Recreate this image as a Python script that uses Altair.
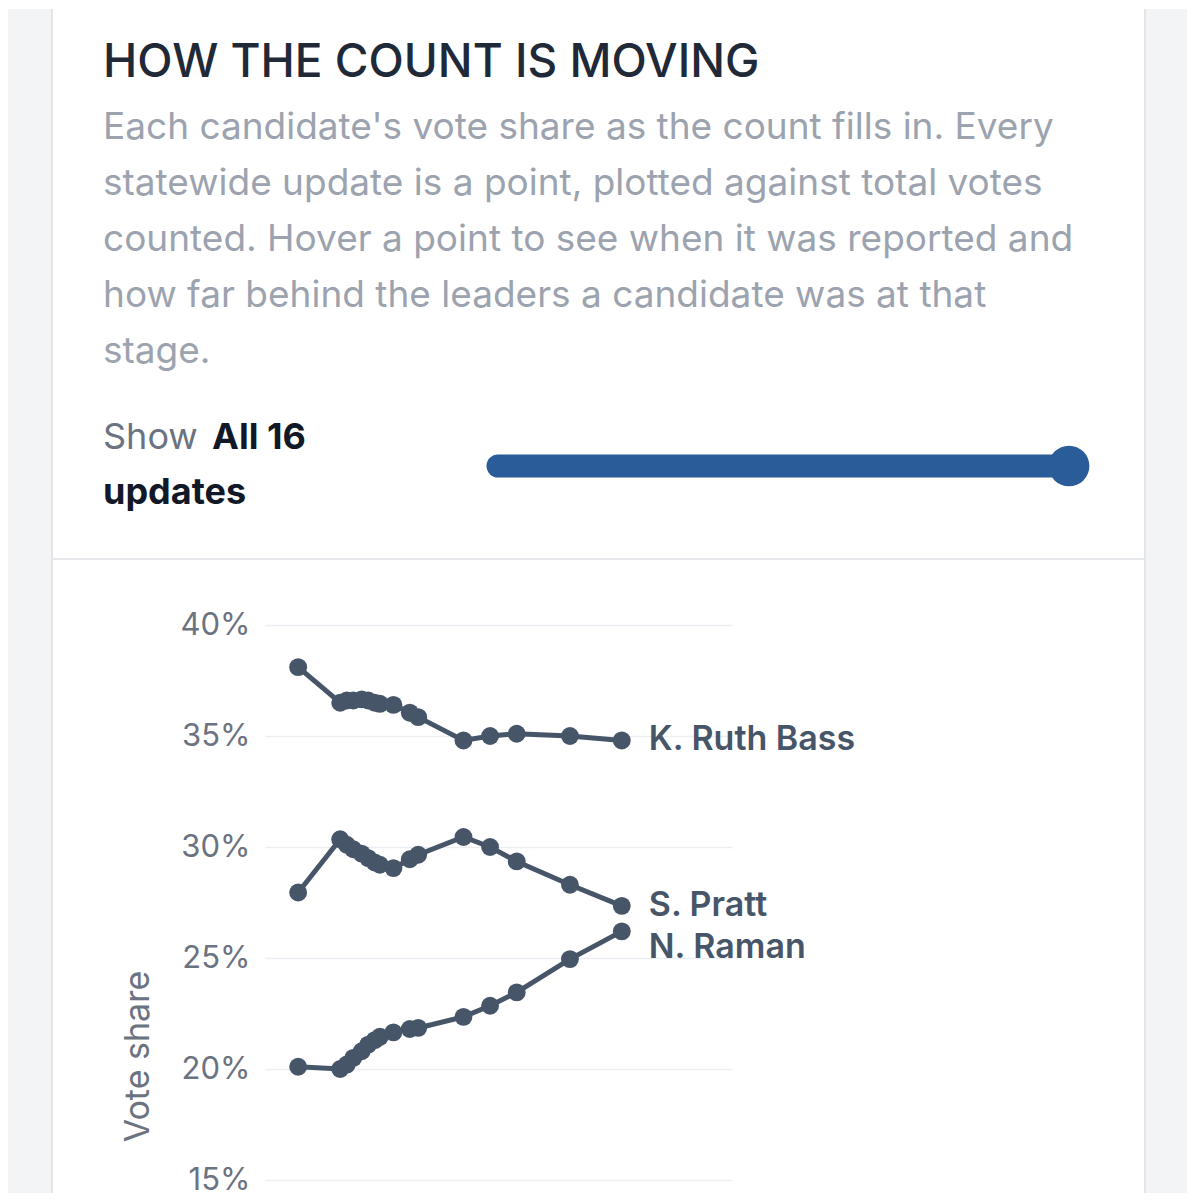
import altair as alt
import pandas as pd

# ---------------- data ----------------
votes_counted = [71000, 161000, 175000, 189000, 207000, 221000, 235000, 246000,
                 275000, 310000, 328000, 425000, 482000, 539000, 653000, 764000]
candidates = ["K. Ruth Bass", "S. Pratt", "N. Raman"]
bass_share = [38.1, 36.5, 36.6, 36.6, 36.65, 36.6, 36.5, 36.45,
              36.4, 36.05, 35.85, 34.8, 35.0, 35.1, 35.0, 34.8]
pratt_share = [27.95, 30.35, 30.1, 29.9, 29.7, 29.5, 29.3, 29.2,
               29.05, 29.45, 29.65, 30.45, 30.0, 29.35, 28.3, 27.35]
raman_share = [20.1, 20.0, 20.2, 20.5, 20.8, 21.1, 21.3, 21.45,
               21.65, 21.8, 21.85, 22.35, 22.85, 23.45, 24.95, 26.2]
y_ticks = [15, 20, 25, 30, 35, 40]

title_text = "HOW THE COUNT IS MOVING"
subtitle_lines = [
    "Each candidate's vote share as the count fills in. Every",
    "statewide update is a point, plotted against total votes",
    "counted. Hover a point to see when it was reported and",
    "how far behind the leaders a candidate was at that",
    "stage.",
]
n_updates = len(votes_counted)
show_word = "Show"
show_value = f"All {n_updates}"
show_unit = "updates"

# ---------------- tables ----------------
series = {candidates[0]: bass_share, candidates[1]: pratt_share, candidates[2]: raman_share}
rows = []
for i, v in enumerate(votes_counted):
    leader = max(series[c][i] for c in candidates)
    for c in candidates:
        rows.append({"update": i + 1, "votes": v, "candidate": c,
                     "share": series[c][i], "behind": round(leader - series[c][i], 2)})
df = pd.DataFrame(rows)
last = df[df["update"] == n_updates]
last_top = last[last["candidate"] != "N. Raman"]
last_low = last[last["candidate"] == "N. Raman"]

slider_df = pd.DataFrame({"first": [1], "shown": [n_updates]})
one = pd.DataFrame({"k": [0]})

INK = "#475569"
FONT = "Inter"

# ---------------- main chart ----------------
xenc = alt.X("votes:Q", title="Total votes counted",
             scale=alt.Scale(domain=[0, 1000000]), axis=None)
yenc = alt.Y("share:Q", title="Vote share",
             scale=alt.Scale(domain=[0, 40], range=[888, 0]),
             axis=alt.Axis(values=y_ticks, labelExpr="datum.value + '%'",
                           labelFontSize=31, labelColor="#6b7280", labelPadding=15,
                           labelFont=FONT, ticks=False, tickSize=0, domain=False,
                           gridColor="#eceef1", gridWidth=1.5,
                           titleFontSize=34, titleFontWeight="normal", titleColor="#6b7280",
                           titleFont=FONT, titlePadding=24, titleY=431))

base = alt.Chart(df).encode(x=xenc, y=yenc, detail="candidate:N")
lines = base.mark_line(color=INK, strokeWidth=5)
points = base.mark_circle(color=INK, size=320, opacity=1).encode(
    tooltip=[alt.Tooltip("candidate:N", title="Candidate"),
             alt.Tooltip("update:Q", title="Update"),
             alt.Tooltip("votes:Q", title="Votes counted", format=","),
             alt.Tooltip("share:Q", title="Vote share (%)"),
             alt.Tooltip("behind:Q", title="Points behind leader")])
lab_top = alt.Chart(last_top).mark_text(align="left", baseline="middle", dx=27,
                                        fontSize=34, fontWeight=600, color=INK,
                                        font=FONT).encode(x=xenc, y=yenc, text="candidate:N")
lab_low = alt.Chart(last_low).mark_text(align="left", baseline="middle", dx=27, dy=17,
                                        fontSize=34, fontWeight=600, color=INK,
                                        font=FONT).encode(x=xenc, y=yenc, text="candidate:N")
main = alt.layer(lines, points, lab_top, lab_low)

# ---------------- slider ----------------
sx = alt.Scale(domain=[1, n_updates], range=[233, 804])
track = alt.Chart(slider_df).mark_rule(color="#2a5c99", strokeWidth=23, strokeCap="round").encode(
    x=alt.X("first:Q", scale=sx, axis=None), x2="shown:Q", y=alt.value(-159))
knob = alt.Chart(slider_df).mark_circle(color="#2a5c99", size=1660, opacity=1).encode(
    x=alt.X("shown:Q", scale=sx, axis=None), y=alt.value(-159))
slider = alt.layer(track, knob)

# ---------------- card / header ----------------
hdr = alt.Chart(one)
strip_l = hdr.mark_rect(color="#f3f4f6").encode(
    x=alt.value(-257), x2=alt.value(-214), y=alt.value(-616), y2=alt.value(568))
strip_r = hdr.mark_rect(color="#f3f4f6").encode(
    x=alt.value(881), x2=alt.value(922), y=alt.value(-616), y2=alt.value(568))
border_l = hdr.mark_rule(color="#e3e5e8", strokeWidth=2).encode(
    x=alt.value(-213), y=alt.value(-616), y2=alt.value(568))
border_r = hdr.mark_rule(color="#e3e5e8", strokeWidth=2).encode(
    x=alt.value(880), y=alt.value(-616), y2=alt.value(568))
divider = hdr.mark_rule(color="#e5e7eb", strokeWidth=2).encode(
    x=alt.value(-213), x2=alt.value(880), y=alt.value(-66))

title = hdr.mark_text(align="left", baseline="alphabetic", fontSize=46, fontWeight=500,
                      color="#1f2937", font=FONT).encode(
    x=alt.value(-162), y=alt.value(-548), text=alt.value(title_text))
subtitle = hdr.mark_text(align="left", baseline="alphabetic", fontSize=37, lineHeight=56,
                         color="#9ca3af", font=FONT).encode(
    x=alt.value(-162), y=alt.value(-486), text=alt.value(subtitle_lines))
show1 = hdr.mark_text(align="left", baseline="alphabetic", fontSize=36,
                      color="#6b7280", font=FONT).encode(
    x=alt.value(-162), y=alt.value(-176), text=alt.value(show_word))
show2 = hdr.mark_text(align="left", baseline="alphabetic", fontSize=36, fontWeight=700,
                      color="#111827", font=FONT).encode(
    x=alt.value(-53), y=alt.value(-176), text=alt.value(show_value))
show3 = hdr.mark_text(align="left", baseline="alphabetic", fontSize=36, fontWeight=700,
                      color="#111827", font=FONT).encode(
    x=alt.value(-162), y=alt.value(-121), text=alt.value(show_unit))
header = alt.layer(strip_l, strip_r, border_l, border_r, divider,
                   title, subtitle, show1, show2, show3)

chart = alt.layer(header, slider, main).resolve_scale(x="independent").properties(
    width=467, height=568, padding=0, background="white"
).configure(font=FONT).configure_view(strokeWidth=0, stroke="transparent")

chart.save("out.html", embed_options={"renderer": "svg", "actions": False})
